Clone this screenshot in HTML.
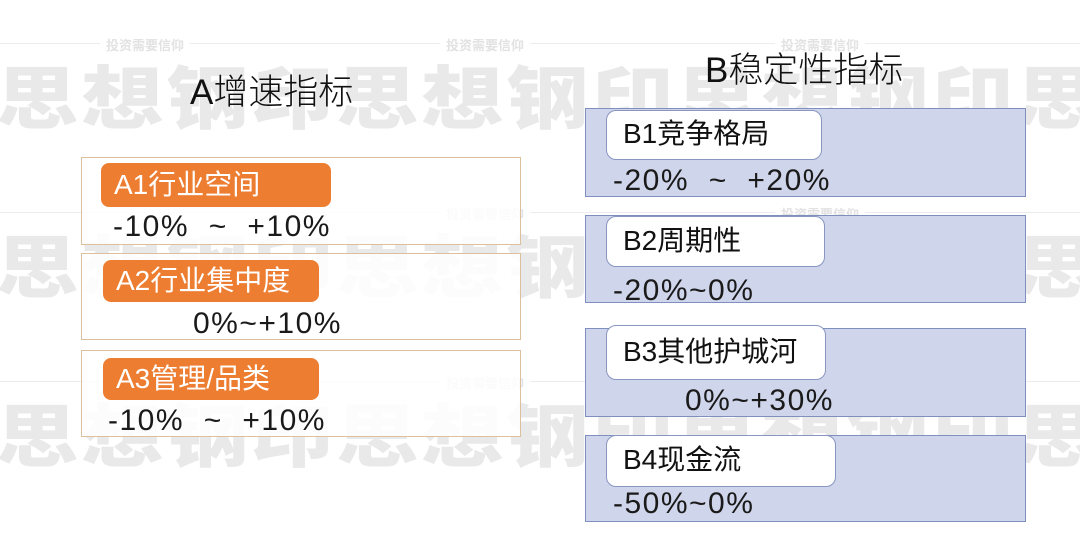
<!DOCTYPE html>
<html><head><meta charset="utf-8"><style>
*{margin:0;padding:0;box-sizing:border-box}
body{width:1080px;height:537px;background:#fff;position:relative;overflow:hidden;font-family:"Liberation Sans","Noto Sans CJK SC",sans-serif}
.w{position:absolute;font-size:84px;font-weight:900;color:#e9e9e9;line-height:1;transform:scale(0.98,0.82);transform-origin:top left;font-family:"Noto Sans CJK SC",sans-serif}
.ln{position:absolute;left:0;width:1080px;height:1px;background:#ececec}
.wt{position:absolute;font-size:13px;color:#e2e2e2;background:#fff;padding:0 6px;font-weight:bold}
.t{position:absolute;font-size:35px;color:#111;white-space:nowrap;font-weight:300}
.ab{position:absolute;left:81px;width:440px;border:1px solid #dcbf9c;background:rgba(255,255,255,0.85)}
.al{position:absolute;background:#ed7d31;color:#fff;border-radius:8px;font-size:28px;padding-left:13px;line-height:44px;white-space:nowrap}
.bb{position:absolute;left:585px;width:441px;border:1px solid #7f8fbf;background:#cfd5ea}
.bl{position:absolute;left:606px;background:#fff;border:1px solid #8896c0;border-radius:10px;font-size:28px;padding-left:16px;color:#111;white-space:nowrap}
.v{position:absolute;font-size:30px;color:#1a1a1a;white-space:nowrap;line-height:1;letter-spacing:1.5px;font-weight:300}
</style></head><body>
<div class="ln" style="top:43px"></div><div class="ln" style="top:212px"></div><div class="ln" style="top:381px"></div>
<div class="wt" style="left:100px;top:35px">投资需要信仰</div><div class="wt" style="left:440px;top:35px">投资需要信仰</div><div class="wt" style="left:775px;top:35px">投资需要信仰</div>
<div class="wt" style="left:440px;top:204px">投资需要信仰</div><div class="wt" style="left:775px;top:204px">投资需要信仰</div>
<div class="wt" style="left:440px;top:373px">投资需要信仰</div><div class="wt" style="left:775px;top:373px">投资需要信仰</div>

<div class="w" style="left:-4px;top:60px">思</div><div class="w" style="left:81px;top:60px">想</div><div class="w" style="left:166px;top:60px">钢</div><div class="w" style="left:251px;top:60px">印</div><div class="w" style="left:336px;top:60px">思</div><div class="w" style="left:421px;top:60px">想</div><div class="w" style="left:506px;top:60px">钢</div><div class="w" style="left:591px;top:60px">印</div><div class="w" style="left:676px;top:60px">思</div><div class="w" style="left:761px;top:60px">想</div><div class="w" style="left:846px;top:60px">钢</div><div class="w" style="left:931px;top:60px">印</div><div class="w" style="left:1016px;top:60px">思</div>
<div class="w" style="left:-4px;top:229px">思</div><div class="w" style="left:81px;top:229px">想</div><div class="w" style="left:166px;top:229px">钢</div><div class="w" style="left:251px;top:229px">印</div><div class="w" style="left:336px;top:229px">思</div><div class="w" style="left:421px;top:229px">想</div><div class="w" style="left:506px;top:229px">钢</div><div class="w" style="left:591px;top:229px">印</div><div class="w" style="left:676px;top:229px">思</div><div class="w" style="left:761px;top:229px">想</div><div class="w" style="left:846px;top:229px">钢</div><div class="w" style="left:931px;top:229px">印</div><div class="w" style="left:1016px;top:229px">思</div>
<div class="w" style="left:-4px;top:398px">思</div><div class="w" style="left:81px;top:398px">想</div><div class="w" style="left:166px;top:398px">钢</div><div class="w" style="left:251px;top:398px">印</div><div class="w" style="left:336px;top:398px">思</div><div class="w" style="left:421px;top:398px">想</div><div class="w" style="left:506px;top:398px">钢</div><div class="w" style="left:591px;top:398px">印</div><div class="w" style="left:676px;top:398px">思</div><div class="w" style="left:761px;top:398px">想</div><div class="w" style="left:846px;top:398px">钢</div><div class="w" style="left:931px;top:398px">印</div><div class="w" style="left:1016px;top:398px">思</div>

<div class="t" style="left:190px;top:64px">A增速指标</div>
<div class="t" style="left:705px;top:42px">B稳定性指标</div>

<div class="ab" style="top:157px;height:88px"></div>
<div class="al" style="left:101px;top:163px;width:230px">A1行业空间</div>
<div class="v" style="left:113px;top:212px">-10% &nbsp;~ &nbsp;+10%</div>
<div class="ab" style="top:253px;height:87px"></div>
<div class="al" style="left:103px;top:260px;width:216px;line-height:42px">A2行业集中度</div>
<div class="v" style="left:193px;top:309px">0%~+10%</div>
<div class="ab" style="top:350px;height:87px"></div>
<div class="al" style="left:103px;top:358px;width:216px;line-height:42px">A3管理/品类</div>
<div class="v" style="left:108px;top:406px">-10% &nbsp;~ &nbsp;+10%</div>

<div class="bb" style="top:108px;height:89px"></div>
<div class="bl" style="top:110px;width:216px;height:50px;line-height:46px">B1竞争格局</div>
<div class="v" style="left:613px;top:166px">-20% &nbsp;~ &nbsp;+20%</div>
<div class="bb" style="top:215px;height:88px"></div>
<div class="bl" style="top:216px;width:219px;height:51px;line-height:48px">B2周期性</div>
<div class="v" style="left:613px;top:276px">-20%~0%</div>
<div class="bb" style="top:328px;height:89px"></div>
<div class="bl" style="top:325px;width:220px;height:55px;line-height:52px">B3其他护城河</div>
<div class="v" style="left:685px;top:386px">0%~+30%</div>
<div class="bb" style="top:435px;height:87px"></div>
<div class="bl" style="top:435px;width:230px;height:52px;line-height:48px">B4现金流</div>
<div class="v" style="left:613px;top:489px">-50%~0%</div>
</body></html>
